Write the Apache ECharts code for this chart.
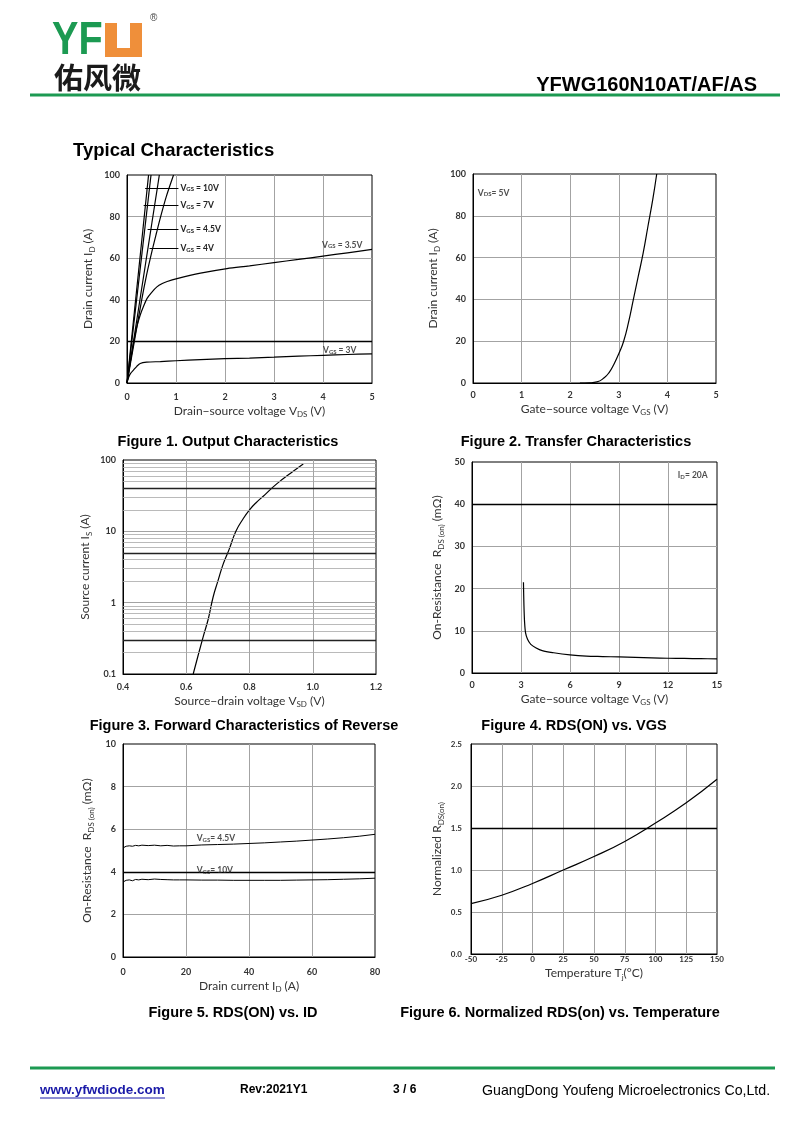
<!DOCTYPE html>
<html><head><meta charset="utf-8">
<script src="https://cdn.jsdelivr.net/npm/echarts@6/dist/echarts.min.js"></script>
<style>html,body{margin:0;padding:0;background:#fff}#c{width:800px;height:1130px}</style>
</head><body><div id="c"></div>
<script>
// ---------- DATA ----------
// Figure 1: Output characteristics  [VDS (V), ID (A)]
const f1_vgs3  = [[0,0],[0.03,2.5],[0.07,4.5],[0.14,6.4],[0.2,8],[0.27,9.4],[0.4,10],[0.68,10.3],[1,10.7],[1.5,11.2],[2,11.7],[2.5,12],[3,12.4],[3.5,12.9],[4,13.3],[4.5,13.7],[5,14]];
const f1_vgs35 = [[0,0],[0.07,10.4],[0.14,20],[0.2,27],[0.27,32.7],[0.34,37],[0.41,40.7],[0.5,43.5],[0.61,46.2],[0.72,47.8],[0.82,48.8],[1.02,50.2],[1.5,52.8],[2.04,55],[2.5,56.3],[3,57.9],[3.5,59.4],[4,61],[4.5,62.6],[5,64.2]];
const f1_vgs4  = [[0,0],[0.15,20],[0.3,40],[0.4,52],[0.51,63.4],[0.6,72],[0.68,79.4],[0.8,89.5],[0.95,100]];
const f1_vgs45 = [[0,0],[0.66,100]];
const f1_vgs7  = [[0,0],[0.49,100]];
const f1_vgs10 = [[0,0],[0.44,100]];
// arrows: [x start, x end, y, label]
const f1_arrows = [[0.37,1.05,93.8,'V{s|GS} = 10V'],[0.34,1.05,85.3,'V{s|GS} = 7V'],[0.42,1.05,73.7,'V{s|GS} = 4.5V'],[0.46,1.05,64.6,'V{s|GS} = 4V']];
const f1_labels = [[3.98,66.4,'V{s|GS} = 3.5V'],[4.0,15.5,'V{s|GS} = 3V']];
// Figure 2: Transfer characteristics [VGS, ID]
const f2_id = [[2.2,0],[2.4,0.1],[2.55,0.5],[2.7,2.5],[2.8,5],[2.9,9],[3.0,14],[3.1,20],[3.2,29],[3.3,40],[3.4,51],[3.5,62],[3.6,75],[3.7,88],[3.78,100]];
const f2_labels = [[0.1,90.9,'V{s|DS}= 5V']];
// Figure 3: Forward characteristics of reverse diode [VSD, IS]
const f3_is = [[0.622,0.1],[0.64,0.2],[0.655,0.35],[0.67,0.6],[0.685,1.2],[0.70,2],[0.717,3.5],[0.735,5.5],[0.757,10],[0.78,15],[0.80,20],[0.82,25],[0.85,33],[0.875,42],[0.9,52],[0.935,68],[0.97,88]];
const f3_minor = [0.2,0.3,0.4,0.5,0.6,0.7,0.8,0.9,2,3,4,5,6,7,8,9,20,30,40,50,60,70,80,90];
const f3_dark = [0.3,5,40];
// Figure 4: RDS(on) vs VGS [VGS, mOhm]
const f4_rds = [[3.15,21.5],[3.18,16],[3.22,12],[3.28,9.5],[3.4,8],[3.6,6.8],[3.9,6],[4.3,5.3],[5,4.8],[6,4.3],[7,4.0],[8,3.9],[9,3.8],[10,3.7],[11,3.6],[12,3.5],[13,3.45],[14,3.4],[15,3.35]];
const f4_labels = [[12.6,46.9,'I{s|D}= 20A']];
// Figure 5: RDS(on) vs ID
const f5_id    = [0,1,2,3,4,5,6,8,10,12,14,16,18,20,25,30,35,40,45,50,55,60,65,70,75,80];
const f5_vgs45 = [5.12,5.2,5.22,5.2,5.24,5.22,5.25,5.23,5.25,5.22,5.24,5.21,5.22,5.22,5.26,5.28,5.3,5.33,5.36,5.4,5.44,5.49,5.54,5.6,5.67,5.76];
const f5_vgs10 = [3.52,3.6,3.62,3.58,3.64,3.62,3.65,3.63,3.66,3.64,3.63,3.62,3.62,3.62,3.61,3.61,3.6,3.6,3.6,3.6,3.61,3.62,3.63,3.65,3.67,3.7];
const f5_labels = [[23.4,5.57,'V{s|GS}= 4.5V'],[23.4,4.08,'V{s|GS}= 10V']];
// Figure 6: Normalized RDS(on) vs Tj
const f6_temp = [-50,-25,0,25,50,75,100,125,150];
const f6_norm = [0.6,0.7,0.84,1.0,1.16,1.34,1.56,1.8,2.08];

// ---------- STYLE ----------
const FF = 'Lato';
const RICH = { s:{fontFamily:FF, fontSize:8, color:'#333', verticalAlign:'bottom', lineHeight:8} };
const GRIDS = [
  {left:127, top:175, width:245, height:208},
  {left:473, top:174, width:243, height:209},
  {left:123, top:460, width:253, height:214},
  {left:472, top:462, width:245, height:211},
  {left:123, top:744, width:252, height:213},
  {left:471, top:744, width:246, height:210}
];
function axis(gi, o){
  const a = {
    gridIndex:gi, type:'value', nameLocation:'middle', nameGap:o.gap, name:o.name,
    min:o.min, max:o.max, interval:o.interval,
    axisLine:{show:true, onZero:false, lineStyle:{color:'#000', width:1}},
    axisTick:{show:false},
    splitLine:{show:true, showMinLine:false, showMaxLine:false, lineStyle:{color:'#a3a3a3', width:1}},
    axisLabel:{fontFamily:FF, fontSize:o.fs||9, fontWeight:'bold', color:'#333', margin:o.margin!=null?o.margin:7, formatter:o.fmt},
    nameTextStyle:{fontFamily:FF, fontSize:12, color:'#333', lineHeight:16, rich:RICH}
  };
  if (o.type) { a.type = o.type; a.logBase = 10; delete a.interval; }
  return a;
}
function line(i, data, extra){
  return Object.assign({type:'line', xAxisIndex:i, yAxisIndex:i, data:data, showSymbol:false, silent:true,
    smooth:0.3, lineStyle:{color:'#000', width:1.2}}, extra||{});
}
function hLines(vals, color, width){
  return {silent:true, symbol:'none', label:{show:false}, animation:false,
    lineStyle:{color:color, width:width, type:'solid'}, data:vals.map(v=>({yAxis:v}))};
}
function labels(i, rows){
  return {type:'scatter', xAxisIndex:i, yAxisIndex:i, symbolSize:0, silent:true, z:5,
    data:rows.map(r=>({value:[r[0],r[1]], label:{formatter:r[2]}})),
    label:{show:true, position:'right', distance:0, fontFamily:FF, fontSize:8.5, fontWeight:'bold', color:'#222',
      rich:{s:{fontFamily:FF, fontSize:6, fontWeight:'bold', color:'#222', verticalAlign:'bottom', lineHeight:6}}}};
}
const fixed1 = v => Number(v).toFixed(1);

const xAxes = [
  axis(0,{min:0,max:5,interval:1,gap:17,margin:10,name:'Drain−source voltage V{s|DS} (V)'}),
  axis(1,{min:0,max:5,interval:1,gap:17,margin:8,name:'Gate−source voltage V{s|GS} (V)'}),
  axis(2,{min:0.4,max:1.2,interval:0.2,gap:16,margin:9,name:'Source−drain voltage V{s|SD} (V)',fmt:fixed1}),
  axis(3,{min:0,max:15,interval:3,gap:17,margin:8,name:'Gate−source voltage V{s|GS} (V)'}),
  axis(4,{min:0,max:80,interval:20,gap:17,margin:11,name:'Drain current I{s|D} (A)'}),
  axis(5,{min:-50,max:150,interval:25,gap:11,margin:1,fs:8,name:'Temperature T{s|j}(°C)'})
];
const yAxes = [
  axis(0,{min:0,max:100,interval:20,gap:31,name:'Drain current I{s|D} (A)'}),
  axis(1,{min:0,max:100,interval:20,gap:32,name:'Drain current I{s|D} (A)'}),
  axis(2,{type:'log',min:0.1,max:100,gap:30,name:'Source current I{s|S} (A)',fmt:v=>String(v)}),
  axis(3,{min:0,max:50,interval:10,gap:27,name:'On-Resistance  R{s|DS (on)} (mΩ)'}),
  axis(4,{min:0,max:10,interval:2,gap:28,name:'On-Resistance  R{s|DS (on)} (mΩ)'}),
  axis(5,{min:0,max:2.5,interval:0.5,gap:26,margin:9,fs:8,name:'Normalized R{s|DS(on)}',fmt:fixed1})
];

const series = [
  // fig 1
  line(0, f1_vgs3, {markLine:hLines([20],'#000',1.4)}),
  line(0, f1_vgs35),
  line(0, f1_vgs4),
  line(0, f1_vgs45, {smooth:false}),
  line(0, f1_vgs7, {smooth:false}),
  line(0, f1_vgs10, {smooth:false}),
  {type:'line', xAxisIndex:0, yAxisIndex:0, data:[], silent:true,
    markLine:{silent:true, symbol:['none','arrow'], symbolSize:[0,5], animation:false,
      lineStyle:{color:'#000', width:1, type:'solid'},
      label:{show:true, position:'end', distance:2, fontFamily:FF, fontSize:8.5, fontWeight:'bold', color:'#222',
        rich:{s:{fontFamily:FF, fontSize:6, fontWeight:'bold', color:'#222', verticalAlign:'bottom', lineHeight:6}}},
      data:f1_arrows.map(r=>[{coord:[r[0],r[2]]},{coord:[r[1],r[2]], label:{formatter:r[3]}}])}},
  labels(0, f1_labels),
  // fig 2
  line(1, f2_id, {smooth:0.5}),
  labels(1, f2_labels),
  // fig 3
  line(2, [], {markLine:hLines(f3_minor,'#a8a8a8',0.8)}),
  line(2, [], {markLine:hLines(f3_dark,'#222',1.4)}),
  line(2, f3_is, {smooth:0.5}),
  // fig 4
  line(3, f4_rds, {markLine:hLines([40],'#000',1.4)}),
  labels(3, f4_labels),
  // fig 5
  line(4, f5_id.map((x,k)=>[x,f5_vgs45[k]]), {smooth:false, lineStyle:{color:'#000',width:1}}),
  line(4, f5_id.map((x,k)=>[x,f5_vgs10[k]]), {smooth:false, lineStyle:{color:'#000',width:1}, markLine:hLines([4],'#000',1.4)}),
  labels(4, f5_labels),
  // fig 6
  line(5, f6_temp.map((x,k)=>[x,f6_norm[k]]), {smooth:0.5, markLine:hLines([1.5],'#000',1.4)})
];

// ---------- PAGE GRAPHICS ----------
const GREEN = '#1c9a52';
function txt(x, y, text, font, fill, align, extra){
  return Object.assign({type:'text', x:x, y:y, silent:true, style:{text:text, font:font, fill:fill||'#000', textAlign:align||'left', textVerticalAlign:'middle'}}, extra||{});
}
const CAP = 'bold 14.5px "Liberation Sans", Arial';
const graphic = [
  // logo
  txt(52, 41, 'YF', 'bold 46px "Liberation Sans", Arial', GREEN, 'left', {scaleX:0.86}),
  {type:'rect', silent:true, shape:{x:105, y:23, width:37, height:34}, style:{fill:'#ef8f3a'}},
  {type:'rect', silent:true, shape:{x:117, y:22, width:13, height:26}, style:{fill:'#fff'}},
  txt(150, 18, '®', '10px "Liberation Sans", Arial', '#444'),
  txt(54, 78, '佑风微', 'bold 29px "Noto Sans CJK SC"', '#1a1a1a'),
  {type:'line', silent:true, shape:{x1:30, y1:95, x2:780, y2:95}, style:{stroke:GREEN, lineWidth:3}},
  txt(757, 85, 'YFWG160N10AT/AF/AS', 'bold 20px "Liberation Sans", Arial', '#000', 'right'),
  // section title
  txt(73, 151, 'Typical Characteristics', 'bold 18.5px "Liberation Sans", Arial', '#000'),
  // captions
  txt(228, 442, 'Figure 1. Output Characteristics', CAP, '#000', 'center'),
  txt(576, 442, 'Figure 2. Transfer Characteristics', CAP, '#000', 'center'),
  txt(244, 726, 'Figure 3. Forward Characteristics of Reverse', CAP, '#000', 'center'),
  txt(574, 726, 'Figure 4. RDS(ON) vs. VGS', CAP, '#000', 'center'),
  txt(233, 1013, 'Figure 5. RDS(ON) vs. ID', CAP, '#000', 'center'),
  txt(560, 1013, 'Figure 6. Normalized RDS(on) vs. Temperature', CAP, '#000', 'center'),
  // footer
  {type:'line', silent:true, shape:{x1:30, y1:1068, x2:775, y2:1068}, style:{stroke:GREEN, lineWidth:3}},
  txt(40, 1090, 'www.yfwdiode.com', 'bold 13.5px "Liberation Sans", Arial', '#1a1aa8'),
  {type:'line', silent:true, shape:{x1:40, y1:1098, x2:165, y2:1098}, style:{stroke:'#1a1aa8', lineWidth:1}},
  txt(240, 1090, 'Rev:2021Y1', 'bold 12px "Liberation Sans", Arial', '#000'),
  txt(393, 1090, '3 / 6', 'bold 12px "Liberation Sans", Arial', '#000'),
  txt(482, 1091, 'GuangDong Youfeng Microelectronics Co,Ltd.', '14.2px "Liberation Sans", Arial', '#000')
];

const chart = echarts.init(document.getElementById('c'), null, {renderer:'canvas', width:800, height:1130});
chart.setOption({
  animation:false,
  backgroundColor:'#fff',
  grid: GRIDS.map(g=>Object.assign({show:true, borderColor:'#000', borderWidth:1, backgroundColor:'transparent', containLabel:false}, g)),
  xAxis: xAxes,
  yAxis: yAxes,
  series: series,
  graphic: graphic
});
</script>
</body></html>
